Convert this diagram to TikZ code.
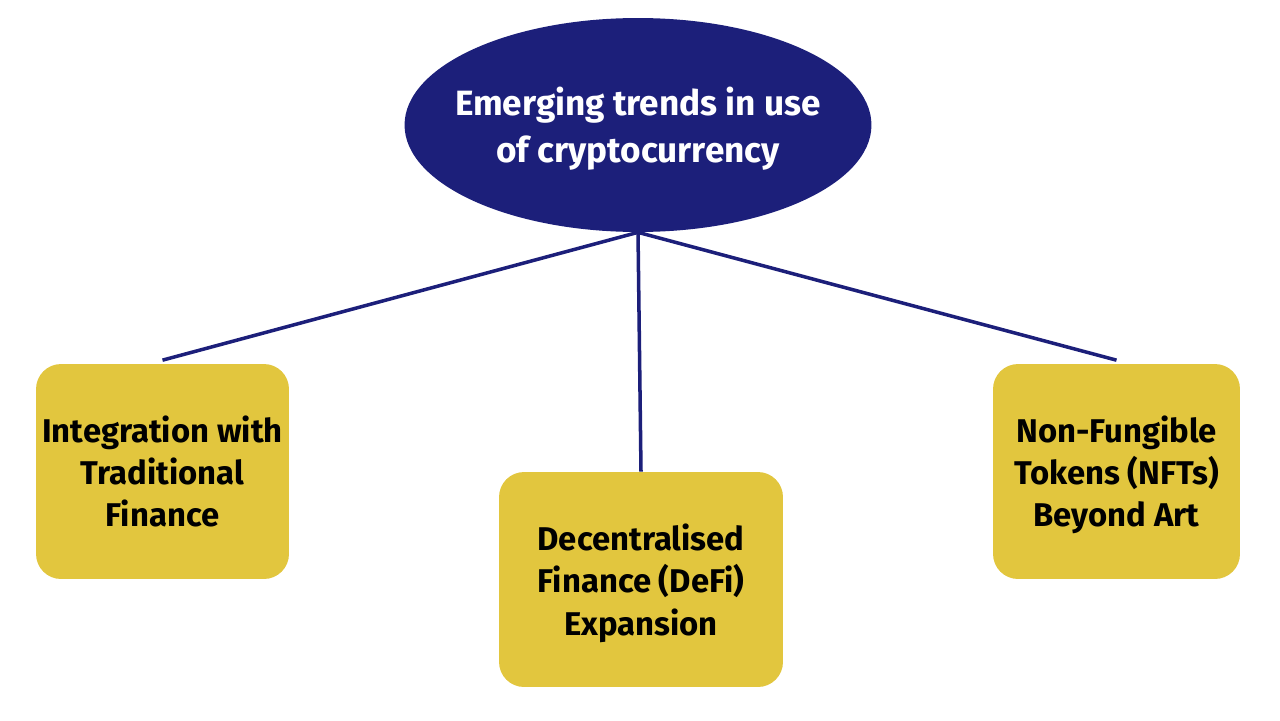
\documentclass[tikz,border=0pt]{standalone}
\usepackage{fontspec}
\setmainfont{Fira Sans}
\usetikzlibrary{positioning, shapes.geometric}

\definecolor{trendnavy}{HTML}{1C1F7A}
\definecolor{trendgold}{HTML}{E2C63E}

\begin{document}
\begin{tikzpicture}[
  x=0.02cm, y=-0.02cm,
  hub/.style={ellipse, fill=trendnavy, minimum width=9.34cm, minimum height=4.28cm,
              inner sep=0pt},
  hubtext/.style={align=center, text=white, inner sep=0pt,
                  font=\fontsize{20}{26.5}\selectfont\bfseries},
  trendbox/.style={fill=trendgold, rounded corners=0.5cm, minimum height=4.3cm,
                   inner sep=0pt, align=center,
                   font=\fontsize{18.7}{24}\selectfont\bfseries},
  link/.style={draw=trendnavy, line width=2pt}
]
\useasboundingbox (0,0) rectangle (1280,720);

\node[hub] (trends) at (638,125) {};
\node[hubtext, yshift=-2pt] (trendslabel) at (trends.center) {Emerging trends in use\\of cryptocurrency};

\node[trendbox, minimum width=5.06cm] (tradfi) at (162.5,471.5) {Integration with\\Traditional\\Finance};
\node[trendbox, minimum width=5.68cm, text depth=0pt] (defi) at (641,579.5) {Decentralised\\Finance (DeFi)\\Expansion};
\node[trendbox, minimum width=4.94cm, text depth=0pt] (nfts) at (1116.5,471.5) {Non-Fungible\\Tokens (NFTs)\\Beyond Art};

% connectors from the hub
\draw[link] (trends.south) -- ([yshift=2pt]tradfi.north);
\draw[link] (trends.south) -- (defi.north);
\draw[link] (trends.south) -- ([yshift=2pt]nfts.north);
\end{tikzpicture}
\end{document}
